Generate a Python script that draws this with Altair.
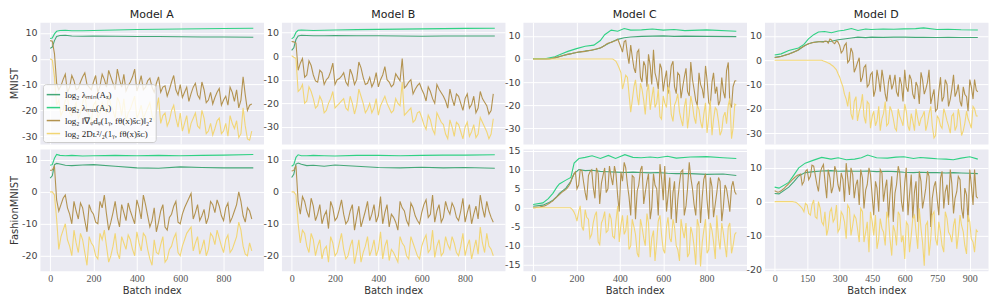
import altair as alt
import pandas as pd

# ---------------- series labels / colours ----------------
LABELS = [
    "log₂ λₘᵢₙ(Aₓ)",
    "log₂ λₘₐₓ(Aₓ)",
    "log₂ ‖∇ᵩdᵩ(1ᵧ, fθ(x)ŝᴄ)‖₂²",
    "log₂ 2Dʟ²/₂(1ᵧ, fθ(x)ŝᴄ)",
]
COLORS = ["#45a878", "#30d184", "#b39350", "#f2d675"]

MODELS = ["Model A", "Model B", "Model C", "Model D"]
DATASETS = ["MNIST", "FashionMNIST"]

# ---------------- x positions (batch index) ----------------
GX_AB = [0, 10, 20, 30, 45, 70, 100, 150, 200, 300, 400, 500, 600, 700, 800, 937]
NX_AB = [0, 10, 20] + list(range(30, 940, 20))
NX_AB_B = list(range(40, 940, 20))
GX_C1 = [0, 60, 100, 130, 160, 200, 240, 280, 310, 330, 360, 390, 420, 450, 500, 550, 600, 650, 700, 800, 937]
GX_D1 = [0, 30, 65, 110, 135, 156, 180, 202, 230, 262, 293, 320, 354, 384, 420, 445, 500, 550, 596, 650, 687, 748, 800, 860, 937]
GX_C2 = [0, 45, 70, 91, 110, 121, 151, 174, 189, 211, 240, 272, 310, 347, 380, 423, 460, 498, 540, 574, 620, 660, 725, 800, 876, 937]
GX_D2 = [0, 20, 65, 90, 111, 141, 180, 217, 260, 293, 330, 369, 400, 429, 470, 520, 560, 596, 640, 672, 710, 748, 790, 824, 860, 900, 937]
NX_CD = list(range(0, 945, 15))
NX_CD_B = list(range(7, 945, 15))

# ---------------- Model A, MNIST ----------------
A1_MAX = [7.8, 8.0, 9.6, 10.6, 10.9, 11.0, 10.8, 10.8, 10.9, 11.1, 11.3, 11.4, 11.5, 11.6, 11.7, 11.8]
A1_MIN = [4.0, 4.5, 7.0, 8.6, 9.0, 9.1, 8.8, 8.7, 8.8, 8.7, 8.6, 8.6, 8.5, 8.4, 8.4, 8.3]
A1_GRAD = [7.0, 6.8, 2.0, -9.5, -10.5, -6.0, -11.0, -8.5, -11.5, -7.0, -10.0, -12.0, -6.5, -10.5, -8.0,
           -4.5, -9.5, -4.0, -11.0, -12.5, -9.0, -4.0, -10.0, -12.0, -8.5, -11.0, -9.5, -13.0, -10.5,
           -12.0, -6.5, -14.0, -15.0, -11.0, -13.5, -9.5, -15.5, -12.0, -16.0, -17.5, -13.0, -18.0,
           -14.5, -11.0, -16.5, -19.0, -7.0, -20.0, -17.5]
A1_GRAD_B = [-12.0, -8.0, -13.0, -6.5, -12.0, -9.0, -5.5, -11.0, -9.0, -13.0,
             -6.0, -11.0, -7.0, -12.0, -8.0, -6.0, -10.5, -7.0, -12.5, -6.5,
             -11.0, -7.5, -13.0, -7.0, -11.0, -14.5, -9.0, -12.0, -10.0, -13.0,
             -16.5, -11.0, -14.0, -9.0, -17.0, -13.0, -15.0, -11.5, -16.0, -18.0,
             -13.0, -12.0, -16.0, -14.0, -18.0]
A1_DIV = [0.0, -0.5, -7.0, -18.0, -22.0, -16.0, -21.0, -19.0, -23.0, -17.0, -20.0, -24.0, -16.5, -21.0,
          -19.0, -14.0, -20.0, -15.0, -22.0, -24.0, -19.5, -14.5, -21.0, -23.0, -19.0, -22.0, -20.0,
          -25.0, -21.0, -24.0, -18.0, -26.5, -28.0, -22.0, -25.0, -21.0, -27.0, -23.0, -28.0, -29.5,
          -24.0, -29.0, -25.0, -22.0, -27.0, -30.5, -19.0, -31.0, -28.0]
A1_DIV_B = [-16.0, -20.0, -15.0, -22.0, -17.0, -21.0, -14.0, -22.0, -18.0, -23.0,
            -17.0, -21.0, -18.0, -23.0, -17.0, -15.5, -21.0, -17.0, -23.0, -18.0,
            -21.0, -17.0, -24.0, -15.0, -22.0, -26.0, -20.0, -23.0, -21.0, -25.0,
            -29.0, -23.0, -26.0, -20.0, -29.0, -25.0, -27.0, -23.0, -28.0, -30.0,
            -25.0, -24.0, -29.0, -26.0, -31.5]

# ---------------- Model B, MNIST ----------------
B1_MAX = [7.3, 8.0, 10.0, 10.9, 11.0, 10.9, 10.8, 10.9, 11.0, 11.2, 11.3, 11.4, 11.5, 11.6, 11.7, 11.8]
B1_MIN = [2.4, 3.5, 7.0, 8.5, 8.8, 8.7, 8.6, 8.6, 8.7, 8.6, 8.6, 8.5, 8.4, 8.5, 8.5, 8.5]
B1_GRAD = [6.2, 6.0, 5.5, -6.0, -1.0, -8.0, -4.0, -10.5, -6.0, -12.0, -9.0, -3.0, -10.0, -8.5, -11.0,
           -5.5, -12.0, -2.5, -9.0, -11.5, -13.0, -7.0, -10.0, -4.5, -11.0, -12.0, -9.0, -1.0, -12.5,
           -10.0, -14.0, -11.5, -16.0, -13.0, -18.0, -12.0, -15.5, -19.0, -14.0, -21.0, -17.0, -23.0,
           -16.0, -20.5, -24.0, -15.0, -19.5, -24.5, -16.0]
B1_GRAD_B = [-3.0, -9.0, -2.0, -8.0, -11.0, -7.0, -10.0, -6.5, -12.0, -9.5,
             -7.0, -12.5, -8.0, -10.0, -5.0, -12.0, -9.0, -11.0, -13.0, -8.0,
             -10.0, -13.0, -7.5, -10.5, -13.5, -11.0, -16.0, -12.5, -14.0, -19.0,
             -15.0, -20.0, -14.0, -17.0, -22.0, -18.0, -16.0, -20.0, -18.0, -22.0,
             -17.0, -22.0, -18.0, -21.0, -23.0]
B1_DIV = [0.2, -0.5, -1.0, -15.0, -12.0, -19.0, -15.0, -22.0, -17.0, -24.0, -20.0, -15.0, -21.0, -19.0,
          -22.0, -17.0, -24.5, -14.0, -20.0, -22.5, -24.0, -18.0, -21.0, -17.0, -22.0, -23.0, -20.0,
          -11.0, -24.0, -22.0, -27.0, -23.5, -29.0, -25.0, -31.0, -24.0, -28.0, -33.0, -27.0, -34.0,
          -29.0, -35.0, -28.0, -32.0, -34.5, -26.0, -30.0, -35.0, -26.5]
B1_DIV_B = [-14.0, -20.0, -13.0, -18.0, -21.0, -19.0, -23.0, -18.0, -22.0, -20.0,
            -18.0, -23.0, -20.0, -21.0, -17.0, -24.0, -20.0, -22.0, -25.0, -19.0,
            -20.0, -24.0, -18.0, -21.0, -25.0, -23.0, -28.0, -24.0, -26.0, -31.0,
            -27.0, -33.0, -26.0, -29.0, -35.0, -30.0, -28.0, -32.0, -30.0, -34.0,
            -29.0, -33.0, -28.0, -32.0, -33.0]

# ---------------- Model C, MNIST ----------------
C1_MAX = [0.2, 0.2, 1.0, 2.2, 3.3, 4.5, 5.5, 6.0, 8.0, 10.5, 12.5, 12.0, 13.2, 12.5, 12.6, 13.0, 12.5,
          12.8, 12.3, 12.6, 12.0]
C1_MIN = [0.0, 0.0, 0.5, 1.3, 2.0, 2.8, 3.4, 4.0, 4.8, 5.8, 7.3, 8.5, 9.2, 9.5, 9.8, 9.9, 10.0, 9.8,
          9.9, 9.8, 9.7]
C1_GRAD = [0.0, 0.0, 0.0, 0.0, 0.0, 0.0, 0.3, 0.7, 1.0, 1.4, 1.8, 2.1, 2.4, 2.7, 3.0, 3.2, 3.3, 3.6,
           3.8, 4.2, 4.5, 5.0, 5.8, 6.8, 7.2, 7.8, 8.5, 5.0, 7.5, 2.0, 6.0, -4.0, 3.0, -8.0, -1.0,
           -12.0, -3.0, 4.0, -9.0, -2.0, -14.0, -5.0, -10.0, -1.0, -15.0, -7.0, -12.0, -4.0, -16.0,
           -9.0, -18.0, -6.0, -13.0, -3.0, -19.0, -10.0, -15.0, -20.0, -8.0, -17.0, -1.5, -21.0, -9.5]
C1_GRAD_B = [0.0, 0.0, 0.0, 0.0, 0.0, 0.1, 0.5, 0.8, 1.2, 1.6, 2.0, 2.2, 2.6, 2.9, 3.1, 3.2, 3.5, 3.7,
             4.0, 4.3, 4.8, 5.4, 6.4, 7.0, 7.5, 8.0, 7.0, 3.0, 8.0, -2.0, 1.0, -6.0, 4.0, -10.0, -3.0,
             2.0, -11.0, -6.0, -13.0, -4.0, -9.0, -15.0, -3.0, -12.0, -6.0, -17.0, -8.0, -14.0, -1.3,
             -13.0, -20.0, -11.0, -17.0, -9.0, -20.0, -6.0, -12.0, -18.0, -14.0, -5.0, -19.0, -12.0,
             -9.4]
C1_DIV = [0.0, 0.0, 0.0, 0.0, 0.0, 0.0, 0.0, 0.0, 0.0, 0.0, 0.0, 0.0, 0.0, 0.0, 0.0, 0.0, 0.0, 0.0,
          0.0, 0.0, 0.0, 0.0, 0.0, 0.0, 0.0, -0.5, -2.5, -6.0, -10.0, -8.0, -23.0, -12.0, -16.0,
          -10.5, -18.0, -14.0, -22.0, -12.0, -19.0, -25.0, -16.0, -21.0, -14.0, -27.0, -18.0, -23.0,
          -29.0, -17.0, -24.0, -20.0, -28.0, -22.0, -30.0, -19.0, -25.0, -33.0, -21.0, -27.0, -31.0,
          -23.0, -20.0, -34.5, -19.5]
C1_DIV_B = [0.0, 0.0, 0.0, 0.0, 0.0, 0.0, 0.0, 0.0, 0.0, 0.0, 0.0, 0.0, 0.0, 0.0, 0.0, 0.0, 0.0, 0.0,
            0.0, 0.0, 0.0, 0.0, 0.0, 0.0, 0.0, -1.0, -4.0, -13.0, -7.0, -15.0, -18.0, -9.0, -20.0,
            -13.0, -24.0, -11.0, -17.0, -21.0, -13.0, -26.0, -19.0, -12.0, -24.0, -20.0, -15.0, -26.0,
            -21.0, -30.0, -16.0, -25.0, -20.0, -27.0, -24.0, -32.0, -18.0, -26.0, -22.0, -33.0, -25.0,
            -28.0, -17.0, -30.0, -20.0]

# ---------------- Model D, MNIST ----------------
D1_MAX = [2.1, 2.6, 4.0, 5.0, 6.5, 8.8, 10.5, 11.6, 11.8, 11.3, 12.0, 12.3, 13.0, 12.2, 12.8, 12.6,
          12.8, 12.7, 12.9, 13.0, 13.3, 12.6, 12.7, 12.5, 12.4]
D1_MIN = [1.2, 1.6, 2.5, 4.2, 5.8, 6.8, 7.4, 7.6, 7.7, 7.8, 8.4, 8.7, 9.1, 9.5, 9.3, 9.5, 9.4, 9.5,
          9.5, 9.4, 9.4, 9.3, 9.4, 9.3, 9.3]
D1_GRAD = [1.0, 1.2, 1.5, 1.9, 2.3, 2.8, 3.4, 4.0, 5.0, 5.7, 6.5, 7.0, 7.3, 7.5, 7.6, 7.4, 7.8, 8.7,
           7.2, 8.0, 6.0, 4.0, 7.0, 0.0, 3.0, -3.0, 1.0, -7.0, -2.0, -10.0, -5.0, -12.0, -8.0, -4.0,
           -14.0, -9.0, -12.0, -6.0, -15.0, -10.0, -4.0, -13.0, -8.0, -16.0, -11.0, -5.0, -14.0,
           -9.0, -18.0, -12.0, -20.0, -7.0, -15.0, -10.0, -16.0, -6.0, -13.0, -17.0, -11.0, -15.0,
           -8.0, -16.0, -12.4]
D1_GRAD_B = [1.1, 1.3, 1.7, 2.1, 2.5, 3.1, 3.7, 4.5, 5.3, 6.1, 6.8, 7.2, 7.4, 7.6, 7.5, 7.9, 7.0, 8.3,
             6.8, 7.5, 3.0, 6.0, -1.0, 5.0, -5.0, -1.0, -9.0, -3.0, -11.0, -6.0, -15.0, -4.0, -13.0,
             -8.0, -17.0, -6.0, -10.0, -13.0, -7.0, -17.0, -11.0, -6.0, -14.0, -9.0, -18.0, -8.0,
             -12.0, -4.0, -15.0, -21.0, -13.0, -17.0, -8.0, -19.0, -12.0, -15.0, -10.0, -19.0, -14.0,
             -21.0, -11.0, -8.0, -13.0]
D1_DIV = [0.0, 0.0, 0.0, 0.0, 0.0, 0.0, 0.0, 0.0, 0.0, 0.0, 0.0, 0.0, 0.0, 0.0, 0.0, -0.3, -0.8,
          -1.5, -2.5, -4.0, -7.0, -11.0, -16.0, -13.0, -24.5, -15.0, -21.0, -14.0, -26.0, -18.0,
          -23.0, -27.0, -19.0, -24.0, -17.0, -26.0, -21.0, -28.0, -20.0, -25.0, -18.0, -27.0, -22.0,
          -29.0, -24.0, -24.0, -21.0, -26.0, -19.0, -32.0, -23.0, -27.0, -20.0, -25.0, -30.0, -22.0,
          -27.0, -24.0, -29.0, -21.0, -26.0, -19.0, -23.0]
D1_DIV_B = [0.0, 0.0, 0.0, 0.0, 0.0, 0.0, 0.0, 0.0, 0.0, 0.0, 0.0, 0.0, 0.0, 0.0, 0.0, -0.5, -1.2,
            -2.0, -3.2, -5.5, -9.0, -14.0, -19.0, -22.0, -17.0, -25.0, -19.0, -23.0, -17.0, -28.0,
            -21.0, -25.0, -29.0, -22.0, -27.0, -19.0, -24.0, -29.0, -23.0, -27.0, -21.0, -29.0, -25.0,
            -20.0, -27.0, -23.0, -29.0, -22.0, -27.0, -31.0, -24.0, -28.0, -22.0, -27.0, -23.0, -29.0,
            -20.0, -31.0, -26.0, -24.0, -28.0, -20.0, -23.0]

# ---------------- Model A, FashionMNIST ----------------
A2_MAX = [8.3, 8.5, 10.5, 11.7, 11.4, 11.3, 11.4, 11.2, 11.3, 11.4, 11.3, 11.4, 11.3, 11.4, 11.5, 11.7]
A2_MIN = [4.3, 5.0, 8.5, 8.9, 8.7, 8.3, 8.2, 8.4, 8.5, 8.0, 7.5, 7.4, 7.8, 7.6, 7.5, 7.5]
A2_GRAD = [6.7, 6.8, 8.0, -2.5, -4.0, -1.0, -7.0, -3.0, -8.5, -5.0, -12.5, -6.0, -9.5, -3.0, -1.0,
           -12.0, -6.5, -8.0, -4.0, -9.0, -6.0, -10.0, -5.0, -1.0, -7.5, -9.0, -12.5, -6.0, -11.0,
           -8.0, -4.5, -9.5, -7.0, -3.5, -0.5, -6.5, -9.0, -5.5, -8.0, -4.0, -2.5, -7.5, -5.0, -9.5,
           -6.0, 0.0, -7.5, -5.0, -8.5]
A2_GRAD_B = [-6.0, -2.0, -5.0, -10.0, -6.0, -3.5, -9.0, -4.0, -7.0, -10.0,
             -5.0, -7.0, -9.5, -3.0, -11.0, -6.5, -3.5, -8.0, -2.5, -8.5,
             -4.0, -11.0, -5.0, -9.5, -4.0, -12.0, -7.0, -3.0, -10.0, -5.0,
             -2.0, -8.5, -4.0, -7.5, -10.0, -3.0, -6.5, -4.5, -9.0, -3.5,
             -8.0, -4.0, -3.0, -9.5, -6.0]
A2_DIV = [0.0, 0.0, -1.0, -8.5, -14.0, -10.0, -17.0, -12.0, -19.0, -15.0, -23.0, -16.0, -20.0, -13.0,
          -12.0, -22.0, -17.0, -19.0, -14.0, -18.0, -15.0, -20.0, -16.0, -13.0, -18.0, -23.0, -19.0,
          -16.5, -22.0, -18.0, -14.5, -19.0, -17.0, -13.0, -11.0, -16.0, -19.5, -15.0, -18.0, -14.0,
          -12.0, -17.0, -15.0, -19.0, -16.0, -9.5, -17.0, -20.0, -18.5]
A2_DIV_B = [-18.0, -12.0, -15.0, -20.0, -16.0, -13.0, -19.0, -14.0, -17.0, -21.0,
            -15.0, -17.0, -20.0, -13.0, -21.0, -16.0, -13.5, -18.0, -12.5, -18.5,
            -14.0, -21.0, -15.0, -19.5, -14.0, -21.0, -17.0, -13.0, -20.0, -15.0,
            -12.0, -18.5, -14.0, -17.5, -20.0, -13.0, -16.5, -14.5, -19.0, -13.5,
            -18.0, -14.0, -12.0, -19.5, -16.0]

# ---------------- Model B, FashionMNIST ----------------
B2_MAX = [8.0, 8.5, 10.8, 11.6, 11.3, 11.3, 11.4, 11.3, 11.2, 11.4, 11.4, 11.3, 11.4, 11.5, 11.5, 11.6]
B2_MIN = [4.5, 5.5, 8.7, 9.0, 8.6, 8.2, 8.3, 8.0, 8.4, 8.0, 7.6, 7.5, 7.7, 7.5, 7.6, 7.4]
B2_GRAD = [6.5, 6.7, 8.2, -3.0, -1.5, -6.0, -2.0, -9.0, -4.0, -7.5, -11.5, -5.0, -8.0, -2.5, -10.0,
           -6.0, -12.0, -4.5, -8.5, -3.0, -7.0, -9.5, -1.5, -6.5, -11.0, -8.0, -12.0, -5.0, -9.0,
           -3.5, -7.5, -10.0, -4.0, -8.0, -1.0, -6.0, -9.5, -3.0, -7.0, -5.0, -9.0, -2.0, -6.5,
           -10.0, -4.5, -1.0, -8.0, -6.0, -9.5]
B2_GRAD_B = [-7.0, -3.0, -8.0, -4.5, -7.0, -10.0, -6.0, -3.0, -9.0, -5.5,
             -7.0, -9.0, -4.0, -8.0, -11.0, -6.0, -9.0, -4.0, -7.5, -10.0,
             -4.0, -7.0, -9.5, -3.0, -6.0, -10.5, -5.0, -9.0, -6.5, -2.5,
             -7.0, -9.5, -4.0, -8.0, -5.5, -3.5, -8.0, -6.0, -9.5, -4.0,
             -7.0, -8.5, -5.0, -3.0, -8.0]
B2_DIV = [0.0, 0.0, -1.0, -10.0, -12.0, -17.0, -13.0, -20.0, -15.0, -18.0, -22.0, -16.0, -19.0,
          -13.0, -21.0, -17.0, -22.5, -15.0, -19.0, -14.0, -18.0, -20.0, -12.5, -17.0, -21.5, -19.0,
          -22.0, -16.0, -20.0, -14.0, -18.0, -21.0, -15.0, -19.0, -12.0, -17.0, -20.0, -14.0, -18.0,
          -16.0, -20.0, -13.0, -17.0, -21.0, -15.0, -11.0, -19.0, -17.0, -20.0]
B2_DIV_B = [-16.0, -13.0, -19.0, -15.0, -17.0, -21.0, -17.0, -14.0, -20.0, -16.0,
            -18.0, -20.0, -15.0, -19.0, -22.0, -17.0, -20.0, -15.0, -18.0, -21.0,
            -15.0, -18.0, -20.5, -14.0, -17.0, -21.0, -16.0, -20.0, -17.0, -13.5,
            -18.0, -20.5, -15.0, -19.0, -16.5, -14.0, -19.0, -17.0, -20.0, -15.0,
            -18.0, -19.5, -16.0, -13.0, -18.0]

# ---------------- Model C, FashionMNIST ----------------
C2_MAX = [0.85, 1.3, 2.4, 3.8, 5.5, 6.3, 7.3, 8.0, 11.8, 13.0, 13.3, 13.7, 13.0, 13.8, 13.0, 14.0,
          13.3, 13.2, 13.4, 13.2, 13.6, 13.1, 13.4, 13.5, 13.2, 13.0]
C2_MIN = [0.4, 0.7, 1.3, 2.0, 3.0, 3.8, 5.2, 7.0, 9.0, 10.1, 9.8, 9.9, 9.6, 9.5, 9.4, 9.3, 9.4, 9.3,
          9.2, 9.3, 9.1, 9.0, 9.0, 8.8, 8.9, 8.5]
C2_GRAD = [0.0, 0.1, 0.2, 0.4, 0.7, 1.2, 1.8, 2.6, 3.4, 4.2, 4.8, 5.8, 8.0, 9.5, 6.0, 9.8, 4.0, 8.5,
           10.0, 2.5, 9.0, 6.5, 10.5, 5.0, 8.0, 11.0, 3.0, 9.5, 12.0, 6.0, -2.0, 8.0, 4.5, 10.0, 1.0,
           7.0, -3.0, 9.0, 5.0, 11.5, 2.0, -1.0, 8.0, 4.0, -4.0, 6.5, 10.0, 0.5, 12.0, 5.0, -2.0,
           7.0, 3.0, 9.0, -3.0, 5.5, 1.0, 8.0, -3.5, 6.0, 2.0, 5.5, 4.2]
C2_GRAD_B = [0.05, 0.15, 0.3, 0.5, 0.9, 1.5, 2.2, 3.0, 3.8, 4.5, 5.2, 6.5, 8.8, 5.0, 10.0, 7.0, 2.0,
             9.5, 5.5, 10.5, 1.0, 8.5, 4.0, 11.0, 6.0, 9.0, -1.0, 7.0, 10.5, 3.0, 8.5, -3.0, 6.0,
             11.0, 4.0, 9.0, 0.0, 6.0, -2.0, 8.0, 11.0, 3.0, -3.0, 7.0, 2.0, 9.5, -2.0, 5.0, 8.0,
             1.0, 6.0, -4.0, 7.5, 2.0, 8.0, -2.5, 4.0, 7.0, 0.0, 5.0, -1.0, 7.0, 3.5]
C2_DIV = [0.0, 0.0, 0.0, 0.0, 0.0, 0.0, 0.0, 0.0, 0.0, 0.0, 0.0, 0.0, -0.4, -2.0, -1.0, -5.0, -0.5,
          -3.0, -7.0, -2.0, -9.0, -4.0, -1.0, -6.0, -3.0, -8.0, 0.5, -4.5, -7.0, -2.0, -10.0, -5.0,
          -12.0, -3.0, -8.0, -1.5, -13.0, -6.0, -9.0, -2.0, -11.0, -5.0, -8.0, -3.0, -10.0, -14.0,
          -6.0, -4.0, -12.0, -7.0, -15.0, -5.0, -9.0, -3.0, -11.0, -6.0, -13.5, -8.0, -4.0, -10.0,
          -5.0, -12.0, -7.0]
C2_DIV_B = [0.0, 0.0, 0.0, 0.0, 0.0, 0.0, 0.0, 0.0, 0.0, 0.0, 0.0, 0.0, -1.0, -3.5, 0.5, -6.0, -2.5,
            -8.0, -4.0, -1.0, -9.7, -3.0, -6.5, -1.5, -7.5, -3.5, -9.0, -2.0, -6.0, -11.0, -3.0,
            -7.0, -13.0, -5.0, -10.0, -4.0, -8.0, -14.0, -3.5, -7.0, -12.0, -2.5, -9.0, -5.0, -11.0,
            -3.0, -8.0, -13.0, -5.0, -10.0, -3.0, -15.5, -6.0, -12.0, -4.0, -9.0, -2.0, -11.0, -6.5,
            -13.0, -4.0, -10.0, -6.5]

# ---------------- Model D, FashionMNIST ----------------
D2_MAX = [4.3, 4.0, 5.7, 8.0, 10.0, 11.4, 12.3, 13.1, 12.6, 13.0, 12.4, 12.6, 13.0, 13.8, 13.0, 12.9,
          13.2, 13.3, 12.8, 13.1, 12.9, 12.7, 12.6, 12.4, 12.9, 13.3, 12.6]
D2_MIN = [2.4, 2.3, 4.3, 6.0, 7.6, 8.6, 8.9, 9.1, 9.2, 9.0, 9.1, 9.0, 9.0, 9.1, 8.9, 9.0, 8.9, 8.7,
          8.6, 8.7, 8.6, 8.6, 8.5, 8.6, 8.5, 8.4, 8.3]
D2_GRAD = [3.2, 2.8, 3.2, 4.0, 5.0, 6.0, 7.0, 7.8, 8.2, 6.0, 9.5, 7.5, 10.5, 5.0, 8.5, 11.0, 1.0, 7.0,
           4.5, 9.0, 3.0, 6.5, 11.4, 2.0, 8.0, 5.0, -1.0, 7.0, 3.5, 10.0, 1.5, 6.0, -3.0, 8.5, 4.0,
           -5.0, 7.5, 2.5, 10.5, 0.0, 5.5, -4.0, 8.0, 3.0, -6.0, 6.0, 1.0, 9.0, -7.5, 4.5, 0.5, 7.0,
           -2.0, 5.0, 9.5, -3.5, 3.0, 6.5, -5.0, 2.0, 9.5, -1.0, 1.5]
D2_GRAD_B = [3.0, 2.9, 3.6, 4.5, 5.5, 6.5, 7.4, 8.0, 5.0, 9.0, 6.5, 10.8, 8.0, 3.0, 10.0, 6.0, 9.5,
             2.5, 10.5, 5.0, 8.5, 0.0, 7.0, 10.0, 1.0, 6.5, 9.5, -2.0, 5.0, 8.0, -4.0, 4.0, 9.5, 0.0,
             6.5, 2.0, -6.0, 5.0, 8.5, -3.0, 10.0, 2.0, -5.0, 6.0, 9.0, -2.0, 4.0, 7.5, 1.0, 6.0,
             -4.0, 9.0, 3.0, -1.0, 5.5, 1.0, 7.5, -2.0, 4.0, -6.0, 5.0, 9.5, 1.0]
D2_DIV = [0.0, 0.0, 0.0, 0.0, 0.0, 0.0, -0.1, -0.5, -1.5, -3.0, -1.0, -4.0, 0.5, -5.0, -2.0, -7.0,
          -10.0, -3.0, -6.0, -1.0, -8.0, -4.0, -11.0, -2.0, -7.0, -5.0, -12.0, -3.0, -9.0, -15.0,
          -6.0, -4.0, -11.0, -8.0, -13.0, -5.0, -16.0, -9.0, -3.0, -12.0, -17.0, -7.0, -10.0, -4.0,
          -14.0, -8.0, -19.0, -6.0, -11.0, -3.0, -13.0, -9.0, -15.0, -5.0, -10.0, -7.0, -14.0, -4.0,
          -9.0, -15.5, -6.0, -12.0, -8.4]
D2_DIV_B = [0.0, 0.0, 0.0, 0.0, 0.0, 0.0, -0.2, -1.0, -2.0, -0.5, -3.5, -1.0, -4.5, 0.0, -6.0, -3.0,
            -8.0, -2.0, -5.0, -9.0, -3.0, -6.0, -1.0, -10.0, -4.0, -8.0, -2.0, -12.0, -6.0, -3.0,
            -10.0, -14.0, -5.0, -9.0, -3.0, -11.0, -7.0, -13.0, -4.0, -10.0, -6.0, -15.0, -5.0, -9.0,
            -2.0, -12.0, -7.0, -16.0, -4.0, -11.0, -6.0, -13.0, -3.0, -9.0, -12.0, -5.0, -10.0, -7.0,
            -13.0, -4.0, -11.0, -15.0, -9.0]

# ---------------- axis ranges / tick labels ----------------
X_DOMAIN = [-47, 984]
XT_ABC = [0, 200, 400, 600, 800]
XT_D = [0, 150, 300, 450, 600, 750, 900]
YT_ROW1 = [-30, -20, -10, 0, 10]
YT_ROW2 = [-20, -10, 0, 10]
YT_C2 = [-15, -10, -5, 0, 5, 10, 15]

W, H = 224, 122

PANELS = [
    # (model, dataset, green x, min, max, noisy x, grad, div, extra noisy x, grad, div, ydomain, yticks, xticks)
    (0, 0, GX_AB, A1_MIN, A1_MAX, NX_AB, A1_GRAD, A1_DIV, NX_AB_B, A1_GRAD_B, A1_DIV_B, [-33.0, 14.1], YT_ROW1, XT_ABC),
    (1, 0, GX_AB, B1_MIN, B1_MAX, NX_AB, B1_GRAD, B1_DIV, NX_AB_B, B1_GRAD_B, B1_DIV_B, [-37.2, 14.3], YT_ROW1, XT_ABC),
    (2, 0, GX_C1, C1_MIN, C1_MAX, NX_CD, C1_GRAD, C1_DIV, NX_CD_B, C1_GRAD_B, C1_DIV_B, [-36.8, 15.9], YT_ROW1, XT_ABC),
    (3, 0, GX_D1, D1_MIN, D1_MAX, NX_CD, D1_GRAD, D1_DIV, NX_CD_B, D1_GRAD_B, D1_DIV_B, [-34.5, 15.6], YT_ROW1, XT_D),
    (0, 1, GX_AB, A2_MIN, A2_MAX, NX_AB, A2_GRAD, A2_DIV, NX_AB_B, A2_GRAD_B, A2_DIV_B, [-24.7, 13.4], YT_ROW2, XT_ABC),
    (1, 1, GX_AB, B2_MIN, B2_MAX, NX_AB, B2_GRAD, B2_DIV, NX_AB_B, B2_GRAD_B, B2_DIV_B, [-24.7, 13.4], YT_ROW2, XT_ABC),
    (2, 1, GX_C2, C2_MIN, C2_MAX, NX_CD, C2_GRAD, C2_DIV, NX_CD_B, C2_GRAD_B, C2_DIV_B, [-16.6, 15.5], YT_C2, XT_ABC),
    (3, 1, GX_D2, D2_MIN, D2_MAX, NX_CD, D2_GRAD, D2_DIV, NX_CD_B, D2_GRAD_B, D2_DIV_B, [-20.5, 15.6], YT_ROW2, XT_D),
]


def frame(gx, gmin, gmax, nx, grad, div, nx2, grad2, div2):
    rows = []
    parts = ((gx, gmin, LABELS[0]), (gx, gmax, LABELS[1]),
             (nx, grad, LABELS[2]), (nx2, grad2, LABELS[2]),
             (nx, div, LABELS[3]), (nx2, div2, LABELS[3]))
    for xs, ys, lab in parts:
        for x, y in zip(xs, ys):
            rows.append({"batch": x, "value": y, "series": lab})
    return pd.DataFrame(rows)


charts = []
for (mi, di, gx, gmin, gmax, nx, grad, div, nx2, grad2, div2, ydom, yt, xt) in PANELS:
    df = frame(gx, gmin, gmax, nx, grad, div, nx2, grad2, div2)
    bottom = di == 1
    left = mi == 0
    xaxis_kw = dict(values=xt, grid=True, gridColor="white", gridWidth=1, ticks=False, domain=False)
    if bottom:
        xaxis = alt.Axis(labels=True, labelFont="Liberation Serif", labelFontSize=10,
                         labelColor="#555555", labelPadding=3, title="Batch index",
                         titleFont="DejaVu Sans", titleFontSize=10, titleFontWeight="normal",
                         titleColor="#333333", titlePadding=2, **xaxis_kw)
    else:
        xaxis = alt.Axis(labels=False, title=None, **xaxis_kw)
    yaxis_kw = dict(values=yt, grid=True, gridColor="white", gridWidth=1, ticks=False, domain=False,
                    labelFont="DejaVu Sans", labelFontSize=9.5, labelColor="#444444",
                    labelPadding=3, labelExpr="'' + datum.value")
    if left:
        yaxis = alt.Axis(title=DATASETS[di], titleFont="DejaVu Sans", titleFontSize=10,
                         titleFontWeight="normal", titleColor="#333333", titlePadding=2, **yaxis_kw)
    else:
        yaxis = alt.Axis(title=None, **yaxis_kw)

    if mi == 0 and di == 0:
        legend = alt.Legend(title=None, orient="none", legendX=3, legendY=62,
                            fillColor="rgba(255,255,255,0.8)", strokeColor="#cccccc",
                            cornerRadius=3, padding=3, labelFont="Liberation Serif",
                            labelFontSize=9, labelColor="#222222", symbolType="stroke",
                            symbolSize=180, symbolStrokeWidth=1.5, rowPadding=0,
                            labelLimit=250)
    else:
        legend = None

    props = dict(width=W, height=H)
    if di == 0:
        props["title"] = alt.TitleParams(text=MODELS[mi], font="DejaVu Sans", fontSize=11,
                                         fontWeight="normal", color="#222222", offset=2)
    c = alt.Chart(df).mark_line(strokeWidth=1.1, clip=True).encode(
        x=alt.X("batch:Q", scale=alt.Scale(domain=X_DOMAIN, nice=False, zero=False), axis=xaxis),
        y=alt.Y("value:Q", scale=alt.Scale(domain=ydom, nice=False, zero=False), axis=yaxis),
        color=alt.Color("series:N", scale=alt.Scale(domain=LABELS, range=COLORS), legend=legend),
        order=alt.Order("batch:Q"),
    ).properties(**props)
    charts.append(c)

chart = alt.concat(
    *charts, columns=4, spacing={"row": 5, "column": 18}, bounds="flush"
).resolve_scale(
    color="independent", x="independent", y="independent"
).resolve_legend(color="independent").properties(
    background="white", padding=0
).configure_view(fill="#EAEAF2", stroke="transparent")

chart.save("out.html", embed_options={"renderer": "svg", "actions": False})
